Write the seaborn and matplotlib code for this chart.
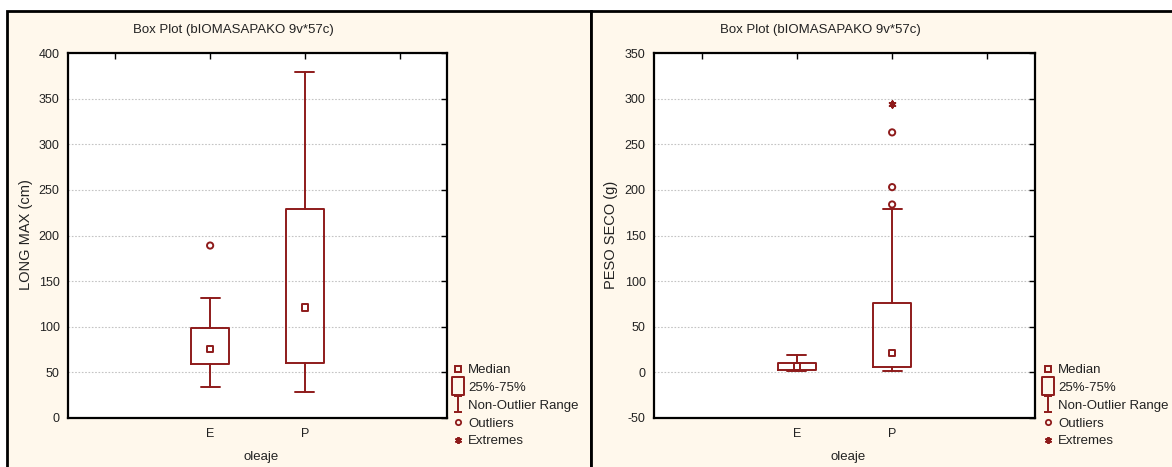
import numpy as np
import pandas as pd
import seaborn as sns
import matplotlib
matplotlib.use("Agg")
import matplotlib.pyplot as plt
from matplotlib.patches import Rectangle
from matplotlib.path import Path
from matplotlib.lines import Line2D

# ---------------- data ----------------
categories = ["E", "P"]
cat_pos = [1, 2]
tick_positions = [0, 1, 2, 3]
tick_labels = ["", "E", "P", ""]

# LONG MAX (cm)
long_whislo = [34.5, 28]
long_q1 = [59, 60]
long_med = [76, 121]
long_q3 = [98.5, 229]
long_whishi = [131, 379]
long_outliers_x = ["E"]
long_outliers_y = [189]
long_extremes_x = []
long_extremes_y = []

# PESO SECO (g)
peso_whislo = [2, 2]
peso_q1 = [3, 5.5]
peso_med = [6.5, 21.5]
peso_q3 = [10.5, 76]
peso_whishi = [19, 179.5]
peso_outliers_x = ["P", "P", "P"]
peso_outliers_y = [184, 203, 263]
peso_extremes_x = ["P"]
peso_extremes_y = [294]

title_text = "Box Plot (bIOMASAPAKO 9v*57c)"
xlabel_text = "oleaje"
ylabels = ["LONG MAX (cm)", "PESO SECO (g)"]
legend_labels = ["Median", "25%-75%", "Non-Outlier Range", "Outliers", "Extremes"]

# ---------------- style ----------------
sns.set_style("white")
plt.rcParams["font.family"] = ["Liberation Sans", "DejaVu Sans"]
RED = "#8E1B1B"
CREAM = "#FFF8EC"
TXT = "#222222"
FS = 8.5

W, H = 1172, 467
fig = plt.figure(figsize=(W / 100, H / 100), dpi=100, facecolor="white")

def fx(px):
    return px / W

def fy(py):
    return 1 - py / H

# panel backgrounds
for (x0, x1) in [(7, 591), (591, 1175)]:
    fig.patches.append(Rectangle((fx(x0), fy(480)), fx(x1 - x0), (480 - 11) / H,
                                 transform=fig.transFigure, facecolor=CREAM,
                                 edgecolor="black", linewidth=2, zorder=-10))

whisker_marker = Path([(-0.5, 1), (0.5, 1), (0, 1), (0, -1), (-0.5, -1), (0.5, -1)],
                      [Path.MOVETO, Path.LINETO, Path.MOVETO, Path.LINETO, Path.MOVETO, Path.LINETO])
box_marker = Path([(-0.36, -0.5), (0.36, -0.5), (0.36, 0.5), (-0.36, 0.5), (-0.36, -0.5)],
                  [Path.MOVETO, Path.LINETO, Path.LINETO, Path.LINETO, Path.CLOSEPOLY])

panels = [
    dict(left=68, right=447, ylim=(0, 400), yticks=np.arange(0, 401, 50),
         whislo=long_whislo, q1=long_q1, med=long_med, q3=long_q3, whishi=long_whishi,
         ox=long_outliers_x, oy=long_outliers_y, ex=long_extremes_x, ey=long_extremes_y,
         ylabel=ylabels[0], ylab_x=26, leg_x=451),
    dict(left=654, right=1035, ylim=(-50, 350), yticks=np.arange(-50, 351, 50),
         whislo=peso_whislo, q1=peso_q1, med=peso_med, q3=peso_q3, whishi=peso_whishi,
         ox=peso_outliers_x, oy=peso_outliers_y, ex=peso_extremes_x, ey=peso_extremes_y,
         ylabel=ylabels[1], ylab_x=611, leg_x=1041),
]

pos_map = dict(zip(categories, cat_pos))
top, bottom = 53, 418
LW = 1.4

for p in panels:
    ax = fig.add_axes([fx(p["left"]), fy(bottom), fx(p["right"] - p["left"]), (bottom - top) / H])
    ax.set_facecolor("white")
    stats = []
    for i, c in enumerate(categories):
        stats.append(dict(label=c, whislo=p["whislo"][i], q1=p["q1"][i], med=p["med"][i],
                          q3=p["q3"][i], whishi=p["whishi"][i], fliers=[]))
    ax.bxp(stats, positions=cat_pos, widths=0.4, showfliers=False, patch_artist=False,
           boxprops=dict(color=RED, linewidth=LW),
           whiskerprops=dict(color=RED, linewidth=LW),
           capprops=dict(color=RED, linewidth=LW),
           medianprops=dict(linewidth=0), capwidths=0.2, zorder=3)
    # medians
    med_df = pd.DataFrame({"x": cat_pos, "y": p["med"]})
    sns.scatterplot(data=med_df, x="x", y="y", ax=ax, marker="s", s=20,
                    facecolor="none", edgecolor=RED, linewidth=1.4, zorder=4, legend=False)
    if len(p["oy"]):
        o_df = pd.DataFrame({"x": [pos_map[c] for c in p["ox"]], "y": p["oy"]})
        sns.scatterplot(data=o_df, x="x", y="y", ax=ax, marker="o", s=20,
                        facecolor="none", edgecolor=RED, linewidth=1.4, zorder=4, legend=False)
    if len(p["ey"]):
        e_df = pd.DataFrame({"x": [pos_map[c] for c in p["ex"]], "y": p["ey"]})
        sns.scatterplot(data=e_df, x="x", y="y", ax=ax, marker=(6, 2, 0), s=20,
                        color=RED, linewidth=1.5, zorder=4, legend=False)

    ax.set_xlim(-0.5, 3.5)
    ax.set_ylim(*p["ylim"])
    ax.set_xticks(tick_positions)
    ax.set_xticklabels(tick_labels)
    ax.set_yticks(p["yticks"])
    ax.set_yticklabels([str(int(v)) for v in p["yticks"]])
    ax.tick_params(direction="in", length=4, width=1, top=True, right=True,
                   labelsize=FS + 0.5, pad=6, colors="black")
    ax.tick_params(axis="x", pad=7)
    for t in ax.get_xticklabels() + ax.get_yticklabels():
        t.set_color(TXT)
    for s in ax.spines.values():
        s.set_color("black")
        s.set_linewidth(1.6)
    ax.yaxis.grid(True, linestyle=(0, (1.5, 1.5)), color="#c4c4c4", linewidth=0.8)
    ax.xaxis.grid(False)
    ax.set_axisbelow(True)
    ax.set_xlabel("")
    ax.set_ylabel("")

    cx = (p["left"] + p["right"]) / 2
    fig.text(fx(cx - 24), fy(30), title_text, ha="center", va="center", fontsize=FS + 1.0, color=TXT)
    fig.text(fx(cx + 4), fy(457), xlabel_text, ha="center", va="center", fontsize=FS + 1.0, color=TXT)
    fig.text(fx(p["ylab_x"]), fy(235), p["ylabel"], ha="center", va="center", rotation=90,
             fontsize=FS + 2.0, color=TXT)

    handles = [
        Line2D([], [], linestyle="none", marker="s", markersize=4.2, markerfacecolor="none",
               markeredgecolor=RED, markeredgewidth=1.4),
        Line2D([], [], linestyle="none", marker=box_marker, markersize=12.5, markerfacecolor="none",
               markeredgecolor=RED, markeredgewidth=1.4),
        Line2D([], [], linestyle="none", marker=whisker_marker, markersize=12, markerfacecolor="none",
               markeredgecolor=RED, markeredgewidth=1.4),
        Line2D([], [], linestyle="none", marker="o", markersize=3.8, markerfacecolor="none",
               markeredgecolor=RED, markeredgewidth=1.3),
        Line2D([], [], linestyle="none", marker=(6, 2, 0), markersize=5, color=RED,
               markeredgewidth=1.4),
    ]
    leg = fig.legend(handles, legend_labels, loc="upper left",
                     bbox_to_anchor=(fx(p["leg_x"]), fy(364)), frameon=False,
                     fontsize=FS + 1.0, handlelength=1.0, handletextpad=0.3,
                     labelspacing=0.42, borderpad=0, borderaxespad=0)
    for t in leg.get_texts():
        t.set_color(TXT)

fig.savefig("out.png", dpi=100, facecolor="white")
